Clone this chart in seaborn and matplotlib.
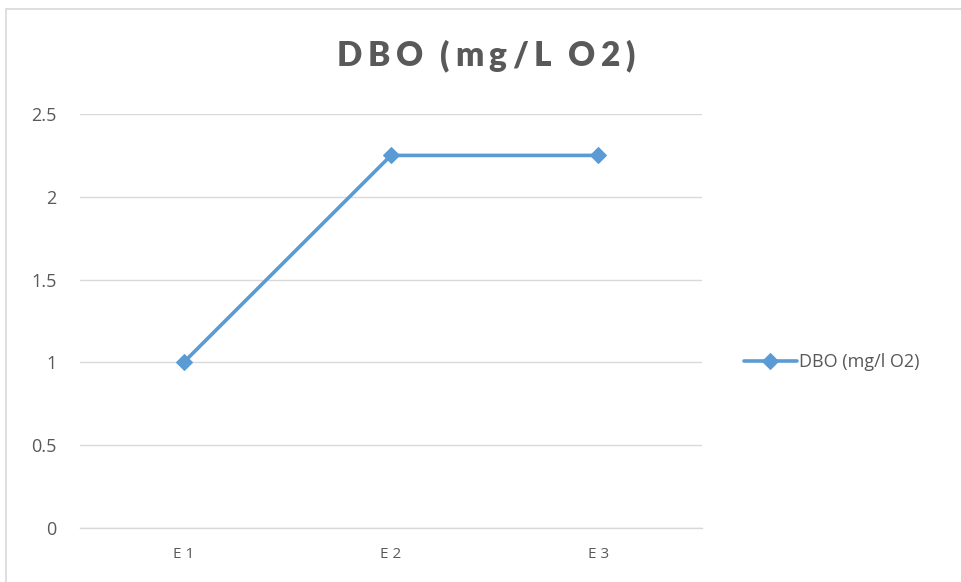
import matplotlib
matplotlib.use("Agg")
import matplotlib.pyplot as plt
import seaborn as sns
import pandas as pd
from matplotlib.patches import Rectangle

stations = ["E 1", "E 2", "E 3"]
dbo_values = [1.0, 2.25, 2.25]
y_ticks = [0, 0.5, 1, 1.5, 2, 2.5]
y_tick_labels = ["0", "0.5", "1", "1.5", "2", "2.5"]
title_text = "DBO (mg/L O2)"
series_label = "DBO (mg/l O2)"

sns.set_theme(style="white")
plt.rcParams["font.family"] = ["Open Sans", "DejaVu Sans"]

TEXT = "#595959"
LINE = "#5B9BD5"
GRID = "#D9D9D9"

df = pd.DataFrame({"station": stations, "dbo": dbo_values})
df["pos"] = range(len(stations))

fig = plt.figure(figsize=(9.61, 5.82), dpi=100)
ax = fig.add_axes([80 / 961, 1 - 528 / 582, (702 - 80) / 961, (528 - 114) / 582])

sns.lineplot(data=df, x="pos", y="dbo", ax=ax, color=LINE, linewidth=2.6,
             marker="D", markersize=8, markeredgecolor=LINE,
             label=series_label)

ax.set_xlim(-0.5, len(stations) - 0.5)
ax.set_ylim(0, 2.5)
ax.set_xticks(range(len(stations)))
ax.set_xticklabels(stations, fontsize=11, color=TEXT)
ax.set_yticks(y_ticks)
ax.set_yticklabels(y_tick_labels, fontsize=13, color=TEXT)
ax.tick_params(axis="both", length=0)
ax.tick_params(axis="x", pad=14)
ax.tick_params(axis="y", pad=17)
ax.set_xlabel("")
ax.set_ylabel("")
ax.grid(axis="y", color=GRID, linewidth=1)
ax.set_axisbelow(True)
for side in ["top", "right", "left"]:
    ax.spines[side].set_visible(False)
ax.spines["bottom"].set_color(GRID)
ax.spines["bottom"].set_linewidth(1)

# Letter-spaced chart title: place each glyph individually
renderer = fig.canvas.get_renderer()
title_kw = dict(fontsize=24, fontweight="heavy", color=TEXT,
                family=["Lato", "DejaVu Sans"], va="baseline", ha="left")
tracking = 5.5  # extra pixels between glyphs
glyphs = []
widths = []
for ch in title_text:
    t = fig.text(0, 0, ch, **title_kw)
    w = t.get_window_extent(renderer).width if ch != " " else 6.0
    glyphs.append(t)
    widths.append(w)
total = sum(widths) + tracking * (len(glyphs) - 1)
x = 486 - total / 2
baseline = 582 - 66
for t, w in zip(glyphs, widths):
    t.set_transform(None)
    t.set_position((x, baseline))
    x += w + tracking

leg = ax.legend(loc="center left", bbox_to_anchor=(728 / 961, 1 - 362 / 582),
                bbox_transform=fig.transFigure, frameon=False, fontsize=13,
                handlelength=2.9, handletextpad=0.15)
for t in leg.get_texts():
    t.set_color(TEXT)

fig.patches.append(Rectangle((6, -50), 1000, 582 - 9 + 50, transform=None,
                             fill=False, edgecolor=GRID, linewidth=1.2))

fig.savefig("out.png", dpi=100)
